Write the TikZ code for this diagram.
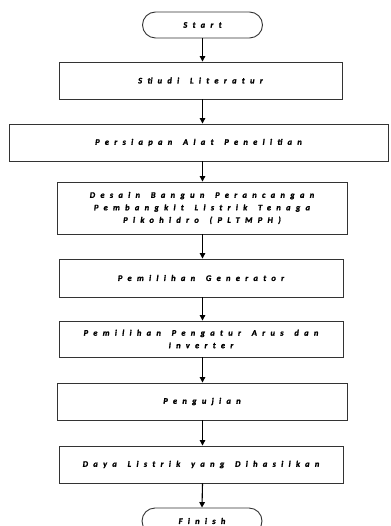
\documentclass[tikz,border=0pt]{standalone}
\usepackage{fontspec}
\setmainfont{Carlito}[LetterSpace=62, WordSpace=1.5, BoldItalicFeatures={FakeBold=1.5}]
\usetikzlibrary{shapes.misc,arrows.meta}
\tikzset{
  box/.style={draw=black!80, line width=0.9pt, rectangle, inner sep=0pt, align=center,
    font=\fontsize{8.5}{12.5}\selectfont\bfseries\itshape},
  term/.style={draw=black!80, line width=0.9pt, rounded rectangle, inner sep=0pt,
    minimum width=120pt, minimum height=26pt, font=\fontsize{8.5}{12.5}\selectfont\bfseries\itshape},
  flow/.style={line width=1.1pt, -{Triangle[length=5.5pt,width=5.5pt]}}
}
\begin{document}
\begin{tikzpicture}[x=1pt,y=-1pt]
\useasboundingbox (0,0) rectangle (390,526);
\clip (0,0) rectangle (390,526);
\node[term] (start) at (202.5,25) {Start};
\node[box, minimum width=283pt, minimum height=37pt] (lit) at (200.5,80.5) {Stiudi Literatur};
\node[box, minimum width=379pt, minimum height=37pt] (alat) at (198.5,142.5) {Persiapan Alat Penelitian};
\node[box, minimum width=290pt, minimum height=52pt] (desain) at (202,208) {Desain Bangun Perancangan\\Pembangkit Listrik Tenaga\\Pikohidro (PLTMPH)};
\node[box, minimum width=284pt, minimum height=38pt] (gen) at (201,278) {Pemilihan Generator};
\node[box, minimum width=284pt, minimum height=36pt] (atur) at (201,339) {Pemilihan Pengatur Arus dan\\Inverter};
\node[box, minimum width=290pt, minimum height=37pt] (uji) at (202,401.5) {Pengujian};
\node[box, minimum width=284pt, minimum height=37pt] (daya) at (201,464.5) {Daya Listrik yang Dihasilkan};
\node[term] (finish) at (202,521) {Finish};
\draw[flow] (start.south) -- (start.south |- lit.north);
\draw[flow] (start.south |- lit.south) -- (start.south |- alat.north);
\draw[flow] (start.south |- alat.south) -- (start.south |- desain.north);
\draw[flow] (start.south |- desain.south) -- (start.south |- gen.north);
\draw[flow] (start.south |- gen.south) -- (start.south |- atur.north);
\draw[flow] (start.south |- atur.south) -- (start.south |- uji.north);
\draw[flow] (start.south |- uji.south) -- (start.south |- daya.north);
\draw[flow] (start.south |- daya.south) -- (finish.north);
\end{tikzpicture}
\end{document}
